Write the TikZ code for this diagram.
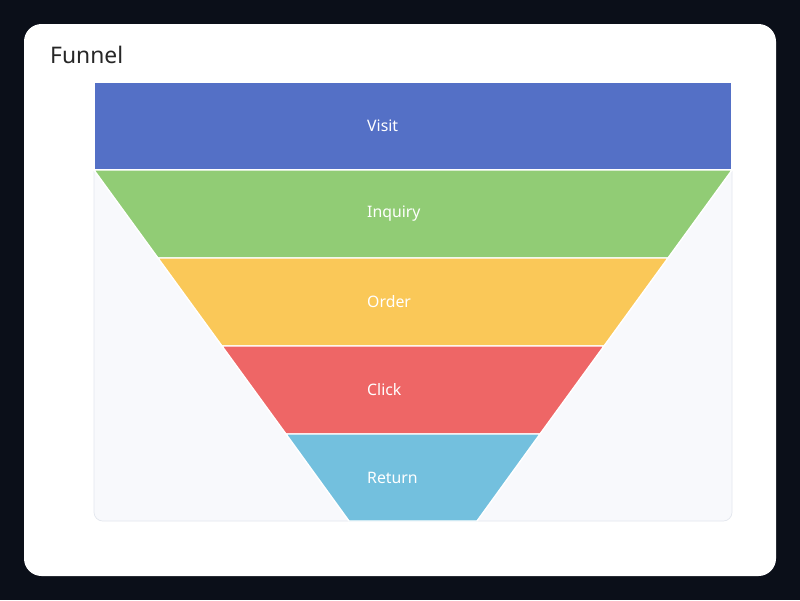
\documentclass[tikz,border=0pt]{standalone}
\usepackage{fontspec}
\setmainfont{Noto Sans}
\usetikzlibrary{positioning}
\definecolor{pagebg}{HTML}{0B0F19}
\definecolor{plotbg}{HTML}{F8F9FC}
\definecolor{plotedge}{HTML}{E3E7EE}
\definecolor{cvisit}{HTML}{5470C6}
\definecolor{cinquiry}{HTML}{91CC75}
\definecolor{corder}{HTML}{FAC858}
\definecolor{cclick}{HTML}{EE6666}
\definecolor{creturn}{HTML}{73C0DE}
\tikzset{
x=0.02cm, y=-0.02cm, % one unit is one pixel of the reference
segment/.style={draw=white, line width=0.8pt}, % sets the look of each funnel part
seglabel/.style={anchor=west, text=white, font=\fontsize{9}{10}\selectfont}, % label inside a part
}

\begin{document}
\begin{tikzpicture}

\fill[pagebg] (0,0) rectangle (800,600);
\fill[white, rounded corners=10] (24,24) rectangle (776,576);
\node[anchor=west, font=\fontsize{13}{15}\selectfont, text=black!85] at (44,55) (title) {Funnel};
\draw[plotedge, fill=plotbg, rounded corners=5] (94,82) rectangle (732,521);

\filldraw[segment, fill=cvisit] (94,82) -- (732,82) -- (732,170) -- (94,170) -- cycle;
\filldraw[segment, fill=cinquiry] (94,170) -- (732,170) -- (668,258) -- (158,258) -- cycle;
\filldraw[segment, fill=corder] (158,258) -- (668,258) -- (604,346) -- (222,346) -- cycle;
\filldraw[segment, fill=cclick] (222,346) -- (604,346) -- (540,434) -- (286,434) -- cycle;
\filldraw[segment, fill=creturn] (286,434) -- (540,434) -- (477,521) -- (349,521) -- cycle;

\node[seglabel] at (361,126) (visit) {Visit};
\node[seglabel] at (361,214) (inquiry) {Inquiry};
\node[seglabel] at (361,302) (order) {Order};
\node[seglabel] at (361,390) (click) {Click};
\node[seglabel] at (361,478) (return) {Return};

\end{tikzpicture}
\end{document}
